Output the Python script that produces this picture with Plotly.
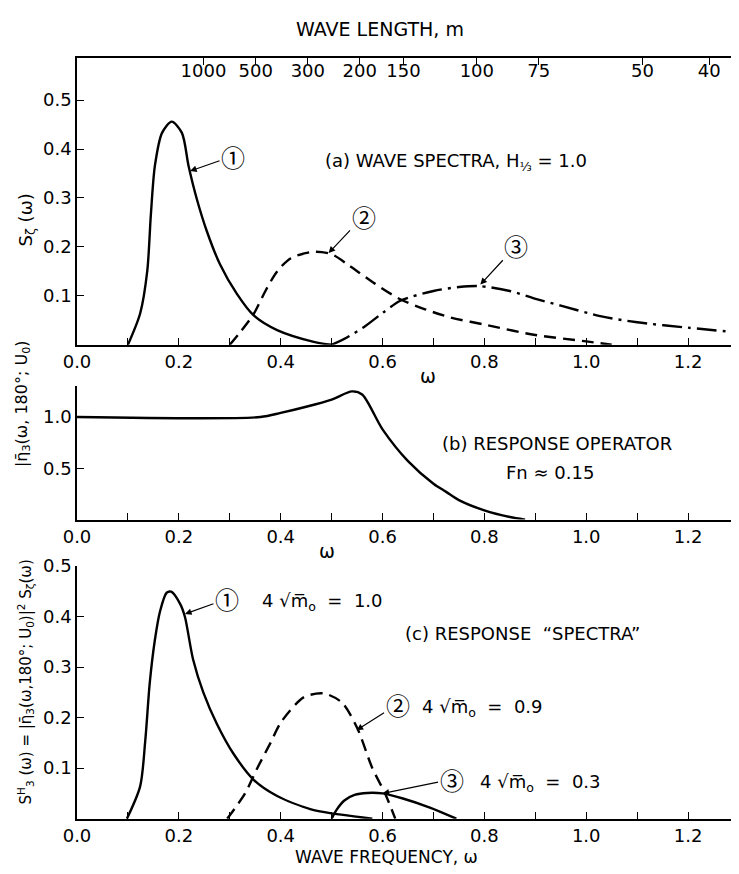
import math
import plotly.graph_objects as go

# ---------------- data ----------------
# (a) wave spectra S_zeta(omega)
a1_w = [0.10, 0.124, 0.138, 0.145, 0.153, 0.167, 0.186, 0.206, 0.219, 0.235, 0.255, 0.281, 0.314, 0.347, 0.393, 0.465, 0.50]
a1_s = [0.0, 0.064, 0.151, 0.265, 0.366, 0.433, 0.456, 0.433, 0.366, 0.299, 0.232, 0.164, 0.104, 0.060, 0.030, 0.006, 0.0]

a2_w = [0.30, 0.32, 0.347, 0.37, 0.393, 0.42, 0.465, 0.50, 0.537, 0.585, 0.635, 0.685, 0.733, 0.806, 0.90, 1.00, 1.05]
a2_s = [0.0, 0.025, 0.063, 0.11, 0.150, 0.177, 0.19, 0.185, 0.160, 0.125, 0.093, 0.072, 0.056, 0.040, 0.020, 0.007, 0.0]

a3_w = [0.50, 0.53, 0.563, 0.60, 0.635, 0.70, 0.75, 0.79, 0.85, 0.897, 0.95, 1.03, 1.10, 1.20, 1.30]
a3_s = [0.0, 0.015, 0.036, 0.065, 0.090, 0.110, 0.118, 0.120, 0.110, 0.095, 0.080, 0.058, 0.046, 0.035, 0.025]

# (b) response operator
b_w = [0.0, 0.36, 0.40, 0.45, 0.50, 0.54, 0.56, 0.60, 0.65, 0.70, 0.725, 0.75, 0.80, 0.85, 0.88]
b_r = [1.0, 1.0, 1.04, 1.10, 1.17, 1.25, 1.22, 0.88, 0.57, 0.35, 0.27, 0.19, 0.09, 0.025, 0.0]

# (c) response spectra
c1_w = [0.098, 0.124, 0.134, 0.143, 0.153, 0.163, 0.176, 0.185, 0.203, 0.212, 0.228, 0.248, 0.275, 0.307, 0.347, 0.393, 0.458, 0.504, 0.557, 0.58]
c1_s = [0.0, 0.064, 0.154, 0.27, 0.354, 0.41, 0.447, 0.449, 0.424, 0.399, 0.315, 0.25, 0.187, 0.129, 0.077, 0.045, 0.019, 0.010, 0.003, 0.0]

c2_w = [0.295, 0.33, 0.354, 0.38, 0.40, 0.445, 0.484, 0.52, 0.55, 0.58, 0.605, 0.625]
c2_s = [0.0, 0.05, 0.10, 0.15, 0.19, 0.24, 0.248, 0.23, 0.18, 0.10, 0.05, 0.0]

c3_w = [0.50, 0.51, 0.525, 0.545, 0.57, 0.60, 0.64, 0.693, 0.745]
c3_s = [0.0, 0.018, 0.036, 0.047, 0.051, 0.050, 0.040, 0.022, 0.0]

# top axis: wave length (m)
wave_lengths = [1000, 500, 300, 200, 150, 100, 75, 50, 40]

x_ticks = [0.0, 0.2, 0.4, 0.6, 0.8, 1.0, 1.2]
ya_ticks = [0.1, 0.2, 0.3, 0.4, 0.5]
yb_ticks = [0.5, 1.0]
yc_ticks = [0.1, 0.2, 0.3, 0.4, 0.5]

# ---------------- figure ----------------
OFF = 8                 # page body margin of the browser
W, H = 739 - OFF, 874 - OFF
ML = 77 - OFF
PW = W - ML
FONT = "DejaVu Sans, Liberation Sans, Arial, sans-serif"
CIRC = "Noto Sans CJK JP, DejaVu Sans, sans-serif"
FS = 18


def px(x):   # screenshot x -> paper
    return (x - OFF - ML) / PW


def py(y):   # screenshot y -> paper
    return 1 - (y - OFF) / H


fig = go.Figure()
LW = 2.4


def add(w, s, xa, ya, dash="solid", shape="spline"):
    fig.add_trace(go.Scatter(x=w, y=s, xaxis=xa, yaxis=ya, mode="lines",
                             line=dict(color="black", width=LW, dash=dash,
                                       shape=shape, smoothing=0.8),
                             showlegend=False, hoverinfo="skip"))


add(a1_w, a1_s, "x", "y")
add(a2_w, a2_s, "x", "y", dash="12px,7px")
add(a3_w, a3_s, "x", "y", dash="20px,6px,3px,6px")
add(b_w, b_r, "x2", "y2")
add(c1_w, c1_s, "x3", "y3")
add(c2_w, c2_s, "x3", "y3", dash="12px,7px")
add(c3_w, c3_s, "x3", "y3")

# invisible trace for top axis
omega_top = [math.sqrt(2 * math.pi * 9.81 / L) for L in wave_lengths]
fig.add_trace(go.Scatter(x=[0], y=[0], xaxis="x4", yaxis="y", mode="markers",
                         marker=dict(opacity=0), showlegend=False, hoverinfo="skip"))

XR = [0, 1.30]
xcommon = dict(range=XR, showline=True, linecolor="black", linewidth=1.5,
               ticks="inside", ticklen=7, tickcolor="black", tickwidth=1.3,
               tickvals=x_ticks, ticktext=[f"{v:.1f}" for v in x_ticks],
               minor=dict(tickvals=[0.1, 0.3, 0.5, 0.7, 0.9, 1.1], ticks="inside",
                          ticklen=7, tickcolor="black", tickwidth=1.3),
               showgrid=False, zeroline=False, tickfont=dict(size=FS, color="black"),
               fixedrange=True)
ycommon = dict(showline=True, linecolor="black", linewidth=1.5, ticks="inside",
               ticklen=7, tickcolor="black", tickwidth=1.3, showgrid=False,
               zeroline=False, tickfont=dict(size=FS, color="black"), fixedrange=True)

dom_a = [py(338), py(47)]
dom_b = [py(515), py(380)]
dom_c = [py(818), py(562)]

fig.update_layout(
    width=W, height=H,
    margin=dict(l=ML, r=0, t=0, b=0),
    paper_bgcolor="white", plot_bgcolor="white",
    font=dict(family=FONT, color="black", size=FS),
    xaxis=dict(**xcommon, anchor="y", domain=[0, 1]),
    yaxis=dict(**ycommon, domain=dom_a, range=[0, 0.587], tickvals=ya_ticks,
               ticktext=[f"{v:.1f}" for v in ya_ticks], anchor="x"),
    xaxis2=dict(**xcommon, anchor="y2", domain=[0, 1]),
    yaxis2=dict(**ycommon, domain=dom_b, range=[0, 1.30], tickvals=yb_ticks,
                ticktext=[f"{v:.1f}" for v in yb_ticks], anchor="x2"),
    xaxis3=dict(**xcommon, anchor="y3", domain=[0, 1]),
    yaxis3=dict(**ycommon, domain=dom_c, range=[0, 0.5], tickvals=yc_ticks,
                ticktext=[f"{v:.1f}" for v in yc_ticks], anchor="x3"),
    xaxis4=dict(range=XR, overlaying="x", side="top", anchor="y", showline=True,
                linecolor="black", linewidth=1.5, ticks="inside", ticklen=8,
                tickcolor="black", tickwidth=1.3, tickvals=omega_top,
                ticktext=[str(v) for v in wave_lengths], ticklabelposition="inside",
                showgrid=False, zeroline=False, tickfont=dict(size=FS, color="black"),
                fixedrange=True),
)

ann = []


def text(x, y, t, size=FS, xanchor="center", angle=0, font=FONT):
    ann.append(dict(x=px(x), y=py(y), xref="paper", yref="paper", text=t,
                    showarrow=False, xanchor=xanchor, yanchor="middle",
                    textangle=angle, font=dict(size=size, family=font, color="black")))


def circ(tx, ty, lx, ly, label, xa, ya):
    # arrow from circled label (pixel offset lx,ly) to curve point (tx,ty data)
    ann.append(dict(x=tx, y=ty, xref=xa, yref=ya, text=label, showarrow=True,
                    arrowhead=2, arrowsize=1.1, arrowwidth=1.2, arrowcolor="black",
                    ax=lx, ay=ly, axref="pixel", ayref="pixel",
                    font=dict(size=24, family=CIRC, color="black")))


text(380, 18, "WAVE LENGTH, m", size=19)
text(323, 153, "(a) WAVE SPECTRA, H<sub>⅓</sub> = 1.0", xanchor="left")
text(428, 370, "ω", size=19)
text(27, 212, "S<sub>ζ</sub> (ω)", angle=-90)

text(557, 438, "(b) RESPONSE OPERATOR")
text(550, 467, "Fn ≈ 0.15")
text(327, 547, "ω", size=19)
text(22, 398, "|η̄<sub>3</sub>(ω, 180°; U<sub>0</sub>)", angle=-90, size=16)

text(403, 630, "(c) RESPONSE  \u201cSPECTRA\u201d", xanchor="left")
text(260, 598, "4 √m̅<sub>o</sub>  =  1.0", xanchor="left")
text(420, 706, "4 √m̅<sub>o</sub>  =  0.9", xanchor="left")
text(478, 782, "4 √m̅<sub>o</sub>  =  0.3", xanchor="left")
text(386, 857, "WAVE FREQUENCY, ω", size=17)
text(25, 680, "S<sup>H</sup><sub>3</sub> (ω) = |η̄<sub>3</sub>(ω,180°; U<sub>0</sub>)|<sup>2</sup> S<sub>ζ</sub>(ω)",
     angle=-90, size=15)

circ(0.222, 0.355, 43, -15, "①", "x", "y")
circ(0.494, 0.1875, 35, -37, "②", "x", "y")
circ(0.792, 0.123, 36, -39, "③", "x", "y")
circ(0.212, 0.405, 42, -15, "①", "x3", "y3")
circ(0.549, 0.175, 41, -26, "②", "x3", "y3")
circ(0.60, 0.05, 69, -14, "③", "x3", "y3")

fig.update_layout(annotations=ann)
fig.write_html("out.html")
